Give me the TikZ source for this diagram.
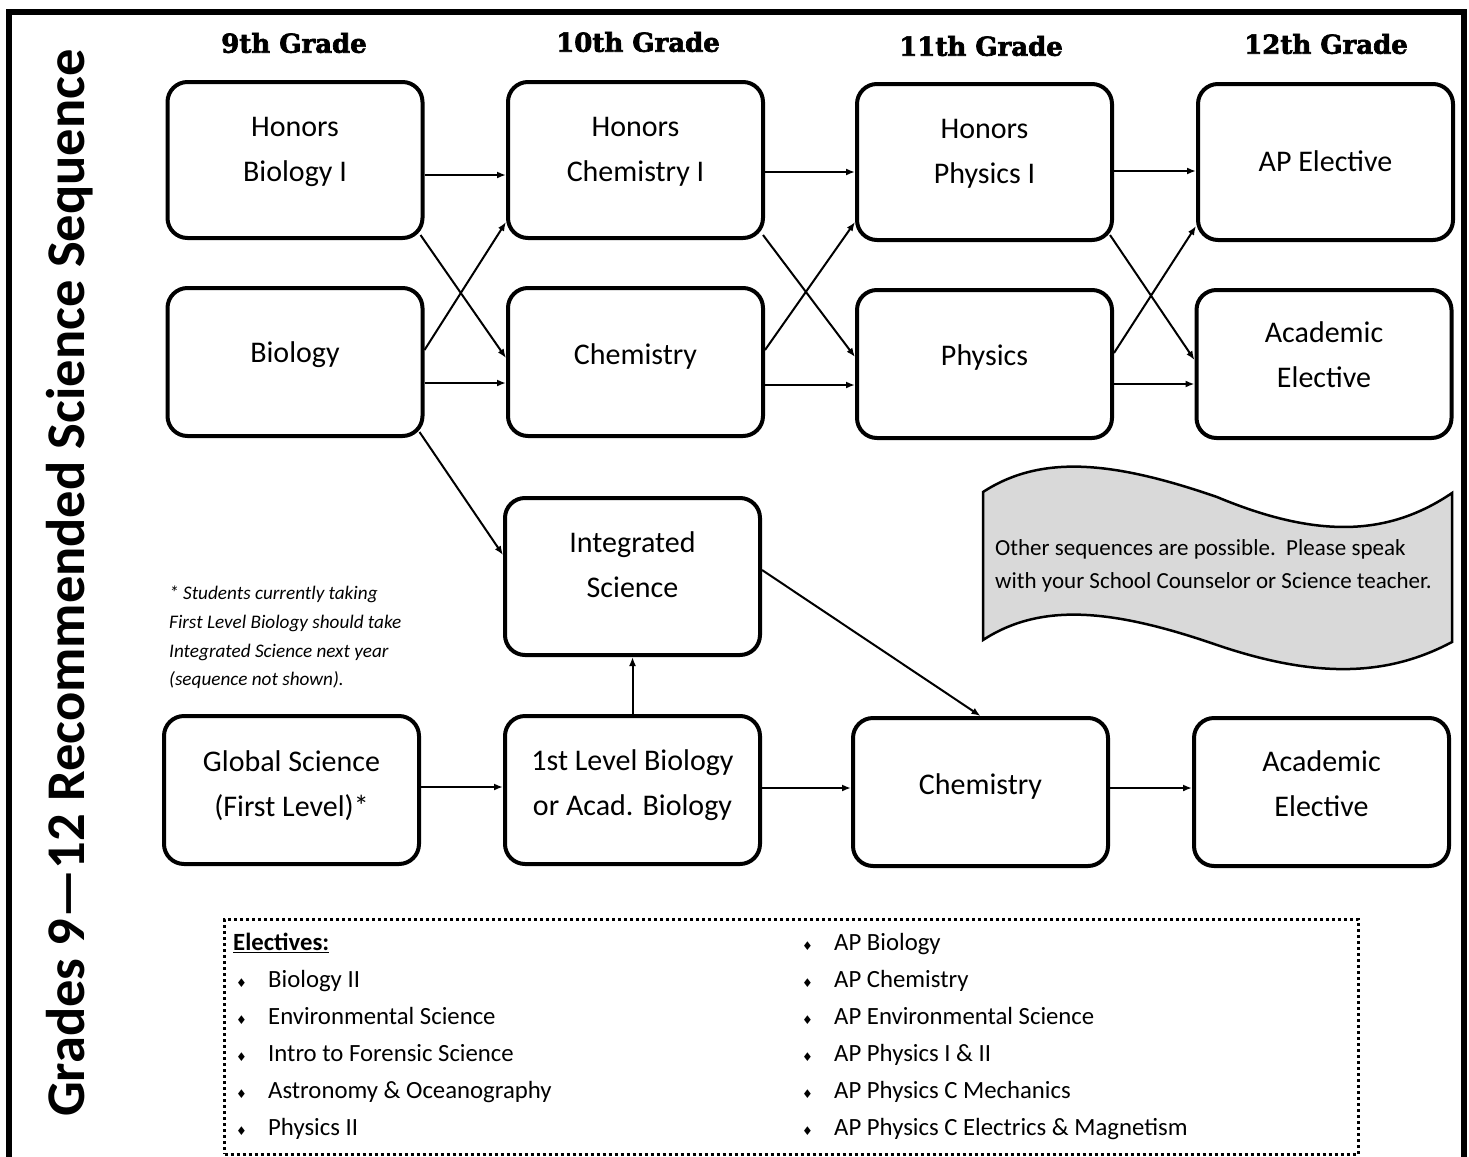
\documentclass[tikz,border=0pt]{standalone}
\usepackage{fontspec}
\setmainfont{Carlito}
\newfontfamily\hdrfont[BoldFeatures={FakeBold=2.5}]{DejaVu Serif}
\newfontfamily\symfont{DejaVu Sans}
\usetikzlibrary{arrows.meta}
\definecolor{bannergray}{RGB}{217,217,217}
\newcommand{\bul}{\makebox[32pt][l]{\symfont\fontsize{12}{12}\selectfont ♦}}

\begin{document}
\begin{tikzpicture}[x=1pt,y=-1pt,
  box/.style={draw, line width=4pt, rounded corners=20pt, minimum width=255pt, minimum height=148pt, inner sep=0pt, outer sep=2pt},
  tall/.style={minimum height=156pt},
  lbl/.style={align=center, font=\fontsize{30}{45}\selectfont, inner sep=0pt},
  arr/.style={line width=2pt, -{Latex[length=9pt,width=7pt]}},
  grade/.style={font=\hdrfont\bfseries\fontsize{26}{26}\selectfont, inner sep=0pt},
  listtext/.style={anchor=north west, align=left, inner sep=0pt, font=\fontsize{24.75}{37}\selectfont},
]
\useasboundingbox (0,0) rectangle (1469,1156);
\fill[white] (0,0) rectangle (1469,1156);
\draw[line width=6pt] (9,1170) -- (9,12.5) -- (1464,12.5) -- (1464,1170);

% title
\node[rotate=90, font=\bfseries\fontsize{54.5}{54.5}\selectfont, inner sep=0pt] (title) at (70,583) {Grades 9—12 Recommended Science Sequence};

% grade headers
\node[grade] (g9) at (294,43) {9th Grade};
\node[grade] (g10) at (638,42) {10th Grade};
\node[grade] (g11) at (981,46) {11th Grade};
\node[grade] (g12) at (1326,44) {12th Grade};

% boxes
\node[box,tall,label={[lbl,yshift=8pt]center:{Honors\\Biology I}}] (hb) at (295,160) {};
\node[box,tall,label={[lbl,yshift=8pt]center:{Honors\\Chemistry I}}] (hc) at (635.5,160) {};
\node[box,tall,label={[lbl,yshift=8pt]center:{Honors\\Physics I}}] (hp) at (984.5,162) {};
\node[box,tall,label={[lbl,yshift=1pt]center:{AP Elective}}] (ap) at (1325.5,162) {};

\node[box,label={[lbl,yshift=7pt]center:{Biology}}] (bio) at (295,362) {};
\node[box,label={[lbl,yshift=6pt]center:{Chemistry}}] (ch) at (635.5,362) {};
\node[box,label={[lbl,yshift=7pt]center:{Physics}}] (ph) at (984.5,364) {};
\node[box,label={[lbl,yshift=9pt]center:{Academic\\Elective}}] (ae) at (1324,364) {};

\node[box,tall,minimum height=157pt,label={[lbl,yshift=12pt]center:{Integrated\\Science}}] (is) at (632.5,576.5) {};

\node[box,label={[lbl,yshift=4pt]center:{Global Science\\(First Level)*}}] (gs) at (291.5,790) {};
\node[box,label={[lbl,yshift=5pt]center:{1st Level Biology\\or Acad. Biology}}] (lb) at (632.5,790) {};
\node[box,label={[lbl,yshift=6pt]center:{Chemistry}}] (ch2) at (980.5,792) {};
\node[box,label={[lbl,yshift=8pt]center:{Academic\\Elective}}] (ae2) at (1321.5,792) {};

% horizontal connectors
\coordinate (s1) at ([yshift=-15pt]hb.east);
\draw[arr] (s1) -- (s1 -| hc.west);
\coordinate (s2) at ([yshift=-12pt]hc.east);
\draw[arr] (s2) -- (s2 -| hp.west);
\coordinate (s3) at ([yshift=-9pt]hp.east);
\draw[arr] (s3) -- (s3 -| ap.west);
\coordinate (s4) at ([yshift=-21pt]bio.east);
\draw[arr] (s4) -- (s4 -| ch.west);
\coordinate (s5) at ([yshift=-23pt]ch.east);
\draw[arr] (s5) -- (s5 -| ph.west);
\coordinate (s6) at ([yshift=-20pt]ph.east);
\draw[arr] (s6) -- (s6 -| ae.west);
\coordinate (s7) at ([yshift=3pt]gs.east);
\draw[arr] (s7) -- (s7 -| lb.west);
\coordinate (s8) at ([yshift=2pt]lb.east);
\draw[arr] (s8) -- (s8 -| ch2.west);
\coordinate (s9) at ([yshift=4pt]ch2.east);
\draw[arr] (s9) -- (s9 -| ae2.west);

% diagonal connectors
\draw[arr] ([xshift=-4pt,yshift=5pt]hb.south east) -- ([yshift=4pt]ch.west);
\draw[arr] ([yshift=12pt]bio.east) -- ([yshift=18pt]hc.south west);
\draw[arr] ([xshift=-5pt,yshift=6pt]bio.south east) -- ([yshift=21.5pt]is.west);
\draw[arr] ([xshift=-2pt,yshift=5pt]hc.south east) -- ([yshift=7pt]ph.west);
\draw[arr] ([yshift=12pt]ch.east) -- ([yshift=20pt]hp.south west);
\draw[arr] ([xshift=-4pt,yshift=7pt]hp.south east) -- ([yshift=4pt]ae.west);
\draw[arr] ([yshift=11pt]ph.east) -- ([yshift=16pt]ap.south west);
\draw[arr] ([yshift=6.5pt]is.east) -- (ch2.north);
\draw[arr] (lb.north) -- (is.south);

% footnote
\node[anchor=north west, align=left, inner sep=0pt, font=\itshape\fontsize{19.2}{28.7}\selectfont] (fn) at (169,585.8)
  {* Students currently taking\\First Level Biology should take\\Integrated Science next year\\(sequence not shown).};

% banner
\draw[line width=2.5pt, fill=bannergray] (983,492) .. controls (1040,455) and (1110,460) .. (1217,497)
  .. controls (1320,540) and (1390,535) .. (1452,493) -- (1452,642)
  .. controls (1390,675) and (1320,680) .. (1217,645)
  .. controls (1110,608) and (1040,603) .. (983,640) -- cycle;
\node[anchor=north west, align=left, inner sep=0pt, font=\fontsize{23}{33}\selectfont] (note) at (995,539.3)
  {Other sequences are possible.\ \ Please speak\\with your School Counselor or Science teacher.};

% electives
\node[draw, line width=3pt, dash pattern=on 3pt off 3pt, minimum width=1133.5pt, minimum height=235pt, inner sep=0pt] (elect) at (791.25,1036.5) {};
\node[listtext] (ecol1) at (233,932.7)
  {\underline{\textbf{Electives:}}\\
   \hspace*{3pt}\bul Biology II\\
   \hspace*{3pt}\bul Environmental Science\\
   \hspace*{3pt}\bul Intro to Forensic Science\\
   \hspace*{3pt}\bul Astronomy \& Oceanography\\
   \hspace*{3pt}\bul Physics II};
\node[listtext] (ecol2) at (802,932.7)
  {\bul AP Biology\\
   \bul AP Chemistry\\
   \bul AP Environmental Science\\
   \bul AP Physics I \& II\\
   \bul AP Physics C Mechanics\\
   \bul AP Physics C Electrics \& Magnetism};
\end{tikzpicture}
\end{document}
